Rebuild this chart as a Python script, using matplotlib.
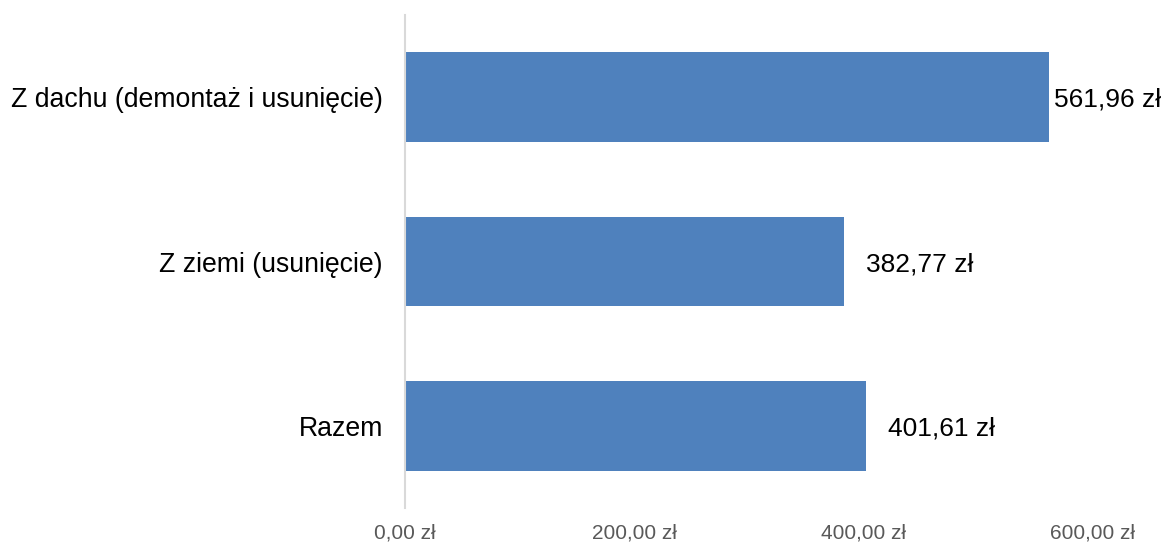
import matplotlib.pyplot as plt

plt.rcParams['font.family'] = ['Liberation Sans', 'DejaVu Sans']

# data
categories = ["Z dachu (demontaż i usunięcie)", "Z ziemi (usunięcie)", "Razem"]
values = [561.96, 382.77, 401.61]
xticks = [0, 200, 400, 600]
xtick_labels = ["0,00 zł", "200,00 zł", "400,00 zł", "600,00 zł"]

def fmt(v):
    return f"{v:.2f}".replace(".", ",") + " zł"

fig = plt.figure(figsize=(11.64, 5.42), dpi=100)
ax = fig.add_axes([405/1164, 1 - 508/542, (1093 - 405)/1164, (508 - 15)/542])

pos = range(len(categories))
bars = ax.barh(pos, values, height=0.547, color="#4F81BD")
ax.set_ylim(2.5, -0.5)
ax.set_xlim(0, 600)

ax.set_yticks(list(pos))
ax.set_yticklabels(categories, fontsize=19.2, color="black")
ax.set_xticks(xticks)
ax.set_xticklabels(xtick_labels, fontsize=15, color="#595959")
ax.tick_params(axis="both", length=0)
ax.tick_params(axis="x", pad=11)
ax.tick_params(axis="y", pad=16)

for s in ["top", "right", "bottom"]:
    ax.spines[s].set_visible(False)
ax.spines["left"].set_color("#D9D9D9")
ax.spines["left"].set_linewidth(1.5)

offsets = [3, 16, 16]  # label offsets in points
for b, v, off in zip(bars, values, offsets):
    ax.annotate(fmt(v), (b.get_width(), b.get_y() + b.get_height()/2),
                xytext=(off, -2), textcoords="offset points",
                va="center", ha="left", fontsize=19, color="black",
                annotation_clip=False)

fig.savefig("out.png", dpi=100)
